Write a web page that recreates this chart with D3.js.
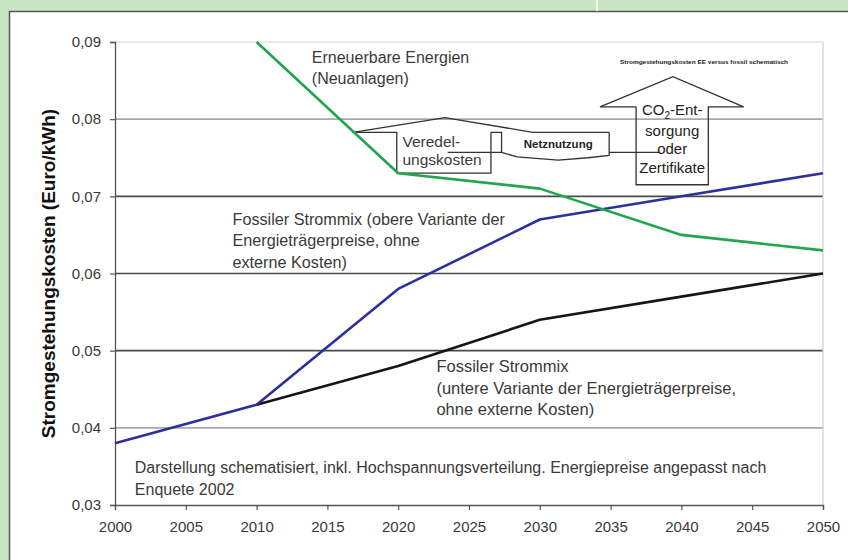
<!DOCTYPE html>
<html lang="de">
<head>
    <meta charset="UTF-8">
    <title>Stromgestehungskosten</title>
    <script src="https://d3js.org/d3.v7.min.js"></script>
    <style>
        html, body { margin: 0; padding: 0; background: #c9e5c3; }
        svg { display: block; font-family: "Liberation Sans", Arial, sans-serif; }
    </style>
</head>
<body>
<svg id="chart" width="848" height="560"></svg>

<script>
    // ---- data ----
    const years = [2000, 2010, 2020, 2030, 2040, 2050];
    const erneuerbar = [null, 0.090, 0.073, 0.071, 0.065, 0.063];
    const fossilOben = [0.038, 0.043, 0.058, 0.067, 0.070, 0.073];
    const fossilUnten = [null, 0.043, 0.048, 0.054, 0.057, 0.060];
    const yTicks = [0.03, 0.04, 0.05, 0.06, 0.07, 0.08, 0.09];
    const xTicks = [2000, 2005, 2010, 2015, 2020, 2025, 2030, 2035, 2040, 2045, 2050];

    const GREEN = '#1fa64e';
    const BLUE = '#2d2f9c';
    const BLACK = '#151515';
    const TEXT = '#3a3a3a';

    const svg = d3.select('#chart');

    // white panel with dark edge
    svg.append('rect').attr('x', 9).attr('y', 11).attr('width', 839).attr('height', 549).attr('fill', '#fff');
    svg.append('path').attr('d', 'M9.5,560 V11.5 H848').attr('fill', 'none').attr('stroke', '#555').attr('stroke-width', 1.5);
    svg.append('line').attr('x1', 597).attr('x2', 597).attr('y1', 0).attr('y2', 11).attr('stroke', '#fff').attr('stroke-width', 1.5);

    const x = d3.scaleLinear().domain([2000, 2050]).range([115, 823]);
    const y = d3.scaleLinear().domain([0.03, 0.09]).range([505, 42]);

    const gridColor = (v) => {
        if (v >= 0.09) return '#e2e2e2';
        if (v >= 0.08 || v <= 0.04) return '#a8a8a8';
        return '#4a4a4a';
    };

    // gridlines
    svg.append('g').selectAll('line')
        .data(yTicks.filter(v => v > 0.03))
        .enter().append('line')
        .attr('x1', x(2000)).attr('x2', x(2050))
        .attr('y1', d => y(d)).attr('y2', d => y(d))
        .attr('stroke', d => gridColor(d))
        .attr('stroke-width', 1.6);

    // right border of plot area
    svg.append('line')
        .attr('x1', x(2050)).attr('x2', x(2050))
        .attr('y1', y(0.09)).attr('y2', y(0.03))
        .attr('stroke', '#cfcfcf').attr('stroke-width', 1.2);

    // axes
    const yAxis = d3.axisLeft(y).tickValues(yTicks).tickSize(5).tickPadding(9)
        .tickFormat(d => d3.format('.2f')(d).replace('.', ','));
    const xAxis = d3.axisBottom(x).tickValues(xTicks).tickSize(5).tickPadding(7)
        .tickFormat(d3.format('d'));

    const gy = svg.append('g').attr('transform', `translate(${x(2000)},0)`).call(yAxis);
    const gx = svg.append('g').attr('transform', `translate(0,${y(0.03)})`).call(xAxis);
    [gx, gy].forEach(g => {
        g.select('.domain').attr('stroke', '#555').attr('stroke-width', 1.3);
        g.selectAll('.tick line').attr('stroke', '#555').attr('stroke-width', 1.2);
        g.selectAll('.tick text').attr('fill', TEXT).style('font-size', '15px')
            .style('font-family', '"Liberation Sans", Arial, sans-serif');
    });
    gx.selectAll('.tick text').attr('dy', '1em');

    svg.append('text')
        .attr('transform', `translate(55,${(y(0.09) + y(0.03)) / 2}) rotate(-90)`)
        .attr('text-anchor', 'middle')
        .attr('fill', '#111')
        .style('font-size', '19px').style('font-weight', 'bold')
        .text('Stromgestehungskosten (Euro/kWh)');

    // ---- schematic arrows (in data units) ----
    const shapes = [
        // Veredelungskosten arrow
        [[2016.8, 0.0783], [2023.3, 0.0802], [2029.5, 0.0783], [2034.9, 0.0783]],
        [[2016.8, 0.0783], [2019.9, 0.0783], [2019.9, 0.0730], [2026.55, 0.0730], [2026.55, 0.0783]],
        [[2026.55, 0.0783], [2027.3, 0.0783], [2027.3, 0.0757], [2023.5, 0.0757]],
        // Netznutzung
        [[2027.3, 0.0757], [2028.4, 0.0751], [2031.3, 0.0747], [2033.4, 0.0750], [2034.9, 0.0753], [2034.9, 0.0783]],
        [[2034.9, 0.0757], [2038.5, 0.0757]],
        // CO2 arrow
        [[2036.8, 0.0816], [2034.25, 0.0816], [2039.4, 0.0855], [2044.4, 0.0816], [2041.9, 0.0816],
            [2041.9, 0.0715], [2036.8, 0.0715], [2036.8, 0.0816]]
    ];
    const shapeLine = d3.line().x(d => x(d[0])).y(d => y(d[1]));
    svg.append('g').selectAll('path')
        .data(shapes)
        .enter().append('path')
        .attr('d', shapeLine)
        .attr('fill', 'none')
        .attr('stroke', '#333')
        .attr('stroke-width', 1.3);

    // ---- series lines ----
    const series = [
        {values: fossilUnten, color: BLACK},
        {values: fossilOben, color: BLUE},
        {values: erneuerbar, color: GREEN}
    ];
    const line = d3.line()
        .defined(d => d[1] !== null)
        .x(d => x(d[0]))
        .y(d => y(d[1]));
    series.forEach(s => {
        svg.append('path')
            .datum(years.map((yr, i) => [yr, s.values[i]]))
            .attr('d', line)
            .attr('fill', 'none')
            .attr('stroke', s.color)
            .attr('stroke-width', 2.6)
            .attr('stroke-linejoin', 'round');
    });

    // ---- labels ----
    const labels = [
        {at: [2013.9, 0.0873], lines: ['Erneuerbare Energien', '(Neuanlagen)'], size: 16, lh: 21},
        {at: [2008.3, 0.0663], lines: ['Fossiler Strommix (obere Variante der', 'Energieträgerpreise, ohne', 'externe Kosten)'], size: 16.2, lh: 21.5},
        {at: [2022.7, 0.0472], lines: ['Fossiler Strommix', '(untere Variante der Energieträgerpreise,', 'ohne externe Kosten)'], size: 16.5, lh: 21.5},
        {at: [2001.4, 0.03415], lines: ['Darstellung schematisiert, inkl. Hochspannungsverteilung. Energiepreise angepasst nach', 'Enquete 2002'], size: 16, lh: 22},
        {at: [2020.3, 0.0764], lines: ['Veredel-', 'ungskosten'], size: 15.5, lh: 18}
    ];
    labels.forEach(l => {
        const t = svg.append('text')
            .attr('x', x(l.at[0])).attr('y', y(l.at[1]))
            .attr('fill', TEXT)
            .style('font-size', l.size + 'px');
        l.lines.forEach((s, i) => {
            t.append('tspan').attr('x', x(l.at[0])).attr('dy', i === 0 ? 0 : l.lh).text(s);
        });
    });

    svg.append('text')
        .attr('x', x(2031.3)).attr('y', y(0.0762))
        .attr('text-anchor', 'middle')
        .attr('fill', '#222')
        .style('font-size', '11.5px').style('font-weight', 'bold')
        .text('Netznutzung');

    const co2 = svg.append('text')
        .attr('x', x(2039.35)).attr('y', y(0.0806))
        .attr('text-anchor', 'middle')
        .attr('fill', '#222')
        .style('font-size', '15px');
    co2.append('tspan').text('CO');
    co2.append('tspan').attr('dy', 4).style('font-size', '10px').text('2');
    co2.append('tspan').attr('dy', -4).text('-Ent-');
    ['sorgung', 'oder', 'Zertifikate'].forEach((s, i) => {
        co2.append('tspan').attr('x', x(2039.35)).attr('dy', i === 0 ? 21 : 18.5).text(s);
    });

    svg.append('text')
        .attr('x', x(2041.6)).attr('y', y(0.0871))
        .attr('text-anchor', 'middle')
        .attr('fill', '#222')
        .attr('textLength', 168)
        .attr('lengthAdjust', 'spacingAndGlyphs')
        .style('font-size', '6px').style('font-weight', 'bold')
        .text('Stromgestehungskosten EE versus fossil schematisch');
</script>
</body>
</html>
